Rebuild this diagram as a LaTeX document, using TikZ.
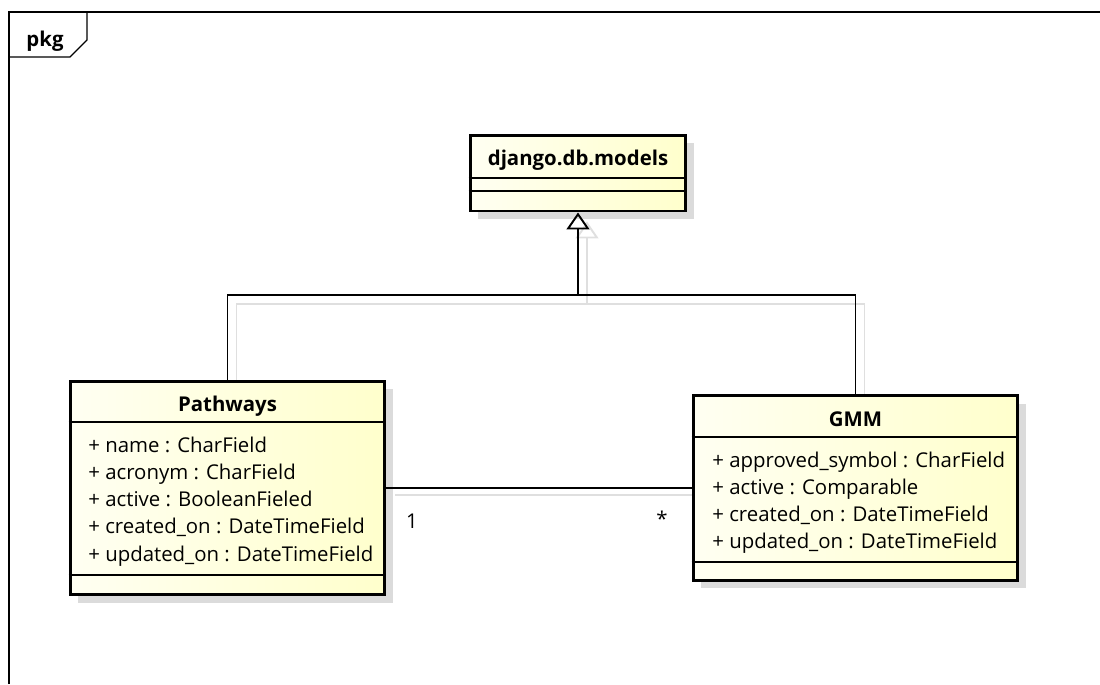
\documentclass[tikz,border=0pt]{standalone}
\usepackage{fontspec}
\setmainfont{Open Sans}
\usetikzlibrary{arrows.meta,shadows,backgrounds}
\definecolor{boxlight}{HTML}{FFFFF2}
\definecolor{boxdeep}{HTML}{FFFFCC}

\begin{document}
\begin{tikzpicture}[x=0.02cm,y=-0.02cm,
        every node/.style={font=\fontsize{11.6}{13}\selectfont},
        classbox/.style={draw,line width=1.7pt,left color=boxlight,right color=boxdeep,inner sep=0pt,
            drop shadow={shadow xshift=0.16cm,shadow yshift=-0.16cm,fill=black!14,opacity=1}},
        title/.style={anchor=base,inner sep=0pt,font=\fontsize{11.6}{13}\selectfont\bfseries},
        attr/.style={anchor=base west,inner sep=0pt},
        sep/.style={line width=0.6pt},
        link/.style={line width=0.9pt},
        ghost/.style={gray!25,line width=0.9pt},
        hollow/.style={-{Triangle[open,length=0.34cm,width=0.46cm,line width=1.1pt]}}]
        \useasboundingbox (0,0) rectangle (1100,684);
        % frame with tab
        \draw[line width=0.7pt] (9,684)--(9,12)--(1100,12);
        \draw[line width=0.7pt] (87,12)--(87,40)--(70,57)--(9,57);
        \node[title] (pkg) at (45,46) {pkg};

        \node[classbox,minimum width=4.32cm,minimum height=1.52cm] (models) at (578,173) {};
        \node[classbox,minimum width=6.3cm,minimum height=4.28cm] (pathways) at (227.5,488) {};
        \node[classbox,minimum width=6.5cm,minimum height=3.7cm] (gmm) at (855.5,488) {};
        \coordinate (join) at (578,295);

        % compartments
        \draw[sep] (models.west |- 0,178)--(models.east |- 0,178);
        \draw[sep] (models.west |- 0,191)--(models.east |- 0,191);
        \draw[sep] (pathways.west |- 0,422)--(pathways.east |- 0,422);
        \draw[sep] (pathways.west |- 0,575)--(pathways.east |- 0,575);
        \draw[sep] (gmm.west |- 0,437)--(gmm.east |- 0,437);
        \draw[sep] (gmm.west |- 0,562)--(gmm.east |- 0,562);

        \node[title] (modelsname) at (578,165) {django.db.models};
        \node[title] (pathwaysname) at (227.5,411) {Pathways};
        \node[title] (gmmname) at (855.5,426) {GMM};
        \foreach \t [count=\i] in {+ name : CharField, + acronym : CharField,
            + active : BooleanFieled, + created\_on : DateTimeField, + updated\_on : DateTimeField}
            \node[attr] (pwattr\i) at (88,{452+27.3*(\i-1)}) {\t};
        \foreach \t [count=\i] in {+ approved\_symbol : CharField, + active : Comparable,
            + created\_on : DateTimeField, + updated\_on : DateTimeField}
            \node[attr] (gmmattr\i) at (712,{467+27.3*(\i-1)}) {\t};

        % generalisation and association
        \draw[link] (pathways.north) |- (join) -| (gmm.north);
        \draw[link,hollow] (join)--(models.south);
        \draw[link] (pathways.east)--(gmm.west);
        \node (one) at (412,521) {1};
        \node (many) at (662,519) {*};

        \begin{scope}[on background layer]
            \draw[ghost] ([shift={(9,9)}]pathways.north) |- ([shift={(9,9)}]join) -| ([shift={(9,9)}]gmm.north);
            \draw[ghost,hollow] ([shift={(9,9)}]join)--([shift={(9,9)}]models.south);
            \draw[ghost] ([shift={(9,7)}]pathways.east)--([shift={(9,7)}]gmm.west);
        \end{scope}
    \end{tikzpicture}
\end{document}
